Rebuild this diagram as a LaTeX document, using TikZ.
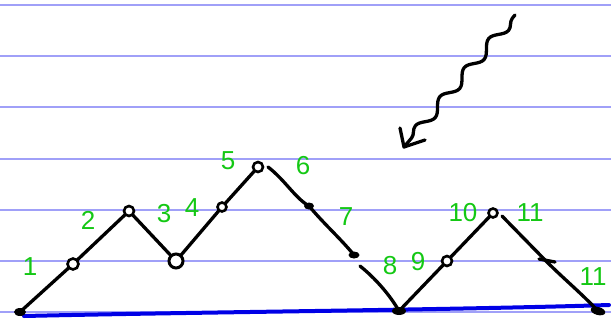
\documentclass[tikz,border=0pt]{standalone}
\usepackage{fontspec}
\setmainfont{Liberation Sans}
\usetikzlibrary{decorations.pathmorphing,shapes.geometric}
\definecolor{ruleblue}{RGB}{160,160,248}
\definecolor{baseblue}{RGB}{0,0,230}
\definecolor{penGreen}{RGB}{20,200,20}
\tikzset{
  rule/.style={draw=ruleblue, line width=1.8pt},
  baseline line/.style={draw=baseblue, line width=4pt, line cap=round},
  ink/.style={draw=black, line width=3.3pt, line cap=round, line join=round},
  ring/.style={circle, draw=black, line width=2.6pt, fill=white, inner sep=0pt, minimum size=#1},
  ring/.default=9pt,
  blob/.style={ellipse, fill=black, inner sep=0pt, minimum width=12pt, minimum height=8pt},
  num/.style={text=penGreen, font=\fontsize{26}{26}\selectfont, inner sep=0pt},
}
\begin{document}
\begin{tikzpicture}[x=1pt,y=-1pt]
\useasboundingbox (0,0) rectangle (611,322);
% ruled lines
\foreach \yy in {5,56,107,159,210,261,312} {
  \draw[rule] (0,\yy) -- (611,\yy);
}
% baseline
\draw[baseline line] (24,316) .. controls (200,312) and (450,310) .. (609,305);
% points
\coordinate (a0) at (20,312);
\coordinate (a1) at (73,264);
\coordinate (a2) at (129,211);
\coordinate (a3) at (176,261);
\coordinate (a4) at (222,207);
\coordinate (a5) at (258,167);
\coordinate (a6s) at (268,167);
\coordinate (a6) at (309,206);
\coordinate (a7) at (354,255);
\coordinate (a7b) at (360,266);
\coordinate (a8) at (399,311);
\coordinate (a9) at (447,261);
\coordinate (a10) at (493,213);
\coordinate (a11s) at (502,216);
\coordinate (a11) at (546,261);
\coordinate (a12) at (598,311);
% mountain path
\draw[ink] (a0) -- (a1) -- (a2) -- (a3) -- (a4) -- (a5);
\draw[ink] (a6s) .. controls (285,180) and (295,198) .. (a6) .. controls (325,225) and (340,238) .. (a7);
\draw[ink] (a7b) .. controls (375,278) and (390,295) .. (a8) -- (a9) -- (a10);
\draw[ink] (a11s) -- (a11) .. controls (565,280) and (580,292) .. (a12);
% markers
\node[blob] (m0) at (a0) {};
\node[ring=11pt] (m1) at (a1) {};
\node[ring=10pt] (m2) at (a2) {};
\node[ring=14pt, line width=3pt] (m3) at (a3) {};
\node[ring=9pt] (m4) at (a4) {};
\node[ring=10pt] (m5) at (a5) {};
\node[blob, minimum width=10pt, minimum height=7pt] (m6) at (a6) {};
\node[blob, minimum width=11pt, minimum height=7pt] (m7) at (a7) {};
\node[blob, minimum width=14pt, minimum height=8pt] (m8) at (a8) {};
\node[ring=10pt] (m9) at (a9) {};
\node[ring=9pt] (m10) at (a10) {};
\draw[ink] (539,259) -- (555,262);
\node[blob, minimum width=15pt, minimum height=8pt, rotate=-15] (m12) at (a12) {};
% labels
\node[num] (l1) at (30,267) {1};
\node[num] (l2) at (88,220) {2};
\node[num] (l3) at (164,214) {3};
\node[num] (l4) at (192,208) {4};
\node[num] (l5) at (228,161) {5};
\node[num] (l6) at (303,166) {6};
\node[num] (l7) at (346,217) {7};
\node[num] (l8) at (390,266) {8};
\node[num] (l9) at (418,262) {9};
\node[num] (l10) at (463,213) {10};
\node[num] (l11) at (530,213) {11};
\node[num] (l11b) at (593,277) {11};
% wavy arrow
\coordinate (w0) at (515,15);
\coordinate (w1) at (404,147);
\draw[ink, decorate, decoration={snake, amplitude=5pt, segment length=38pt, pre length=4pt, post length=6pt}] (w0) -- (w1);
\draw[ink] (400,128) -- (w1) -- (425,140);
\end{tikzpicture}
\end{document}
